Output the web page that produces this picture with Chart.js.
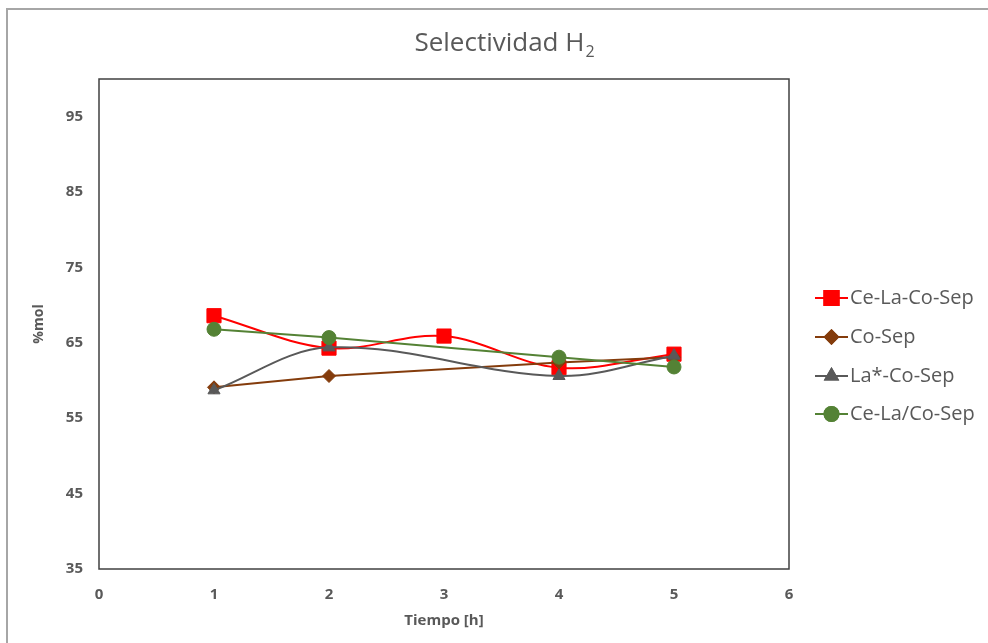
<!DOCTYPE html>
<html lang="es">
<head>
<meta charset="utf-8">
<title>Selectividad H2</title>
<script src="https://cdn.jsdelivr.net/npm/chart.js@4.4.0/dist/chart.umd.min.js"></script>
<style>
  html, body { margin: 0; padding: 0; background: #ffffff; }
  canvas { display: block; }
</style>
</head>
<body>
<canvas id="chart" width="988" height="643"></canvas>
<script>
// Data
const seriesNames = ["Ce-La-Co-Sep", "Co-Sep", "La*-Co-Sep", "Ce-La/Co-Sep"];
const timesCeLaCo = [1, 2, 3, 4, 5];
const valuesCeLaCo = [68.6, 64.3, 65.9, 61.7, 63.5];
const timesCo = [1, 2, 4, 5];
const valuesCo = [59.1, 60.6, 62.4, 63.1];
const timesLa = [1, 2, 4, 5];
const valuesLa = [58.7, 64.4, 60.6, 63.3];
const timesCeLa = [1, 2, 4, 5];
const valuesCeLa = [66.8, 65.7, 63.1, 61.8];
const xTicks = [0, 1, 2, 3, 4, 5, 6];
const yTicks = [35, 45, 55, 65, 75, 85, 95];

const textColor = "#595959";
Chart.defaults.font.family = "'Open Sans', sans-serif";
Chart.defaults.color = textColor;

const toPoints = (xs, ys) => xs.map((x, i) => ({ x: x, y: ys[i] }));

function makeSeries(name, xs, ys, color, style, radius, tension, order) {
    return {
        label: name,
        data: toPoints(xs, ys),
        borderColor: color,
        backgroundColor: color,
        borderWidth: 2,
        pointStyle: style,
        pointRadius: radius,
        pointHoverRadius: radius,
        pointBorderWidth: 1,
        pointBackgroundColor: color,
        pointBorderColor: color,
        tension: tension,
        order: order,
    };
}

const datasets = [
    makeSeries(seriesNames[0], timesCeLaCo, valuesCeLaCo, "#ff0000", "rect", 10, 0.35, 4),
    makeSeries(seriesNames[1], timesCo, valuesCo, "#843c0c", "rectRot", 6.5, 0, 3),
    makeSeries(seriesNames[2], timesLa, valuesLa, "#595959", "triangle", 7, 0.35, 2),
    makeSeries(seriesNames[3], timesCeLa, valuesCeLa, "#548235", "circle", 7, 0, 1),
];

// Frame, plot box, title and legend drawn like the spreadsheet chart
const excelLook = {
    id: "excelLook",
    beforeDraw(chart) {
        const ctx = chart.ctx;
        ctx.save();
        ctx.fillStyle = "#a6a6a6";
        ctx.fillRect(6, 8, 2, chart.height);
        ctx.fillRect(6, 8, chart.width, 2);
        ctx.restore();
    },
    afterDraw(chart) {
        const ctx = chart.ctx;
        const a = chart.chartArea;
        ctx.save();
        // plot box
        ctx.strokeStyle = "#404040";
        ctx.lineWidth = 1.5;
        ctx.strokeRect(a.left, a.top, a.right - a.left, a.bottom - a.top);

        // title with subscript
        ctx.fillStyle = textColor;
        ctx.textBaseline = "alphabetic";
        ctx.font = "26px 'Open Sans', sans-serif";
        const main = "Selectividad H";
        const mainW = ctx.measureText(main).width;
        ctx.font = "16px 'Open Sans', sans-serif";
        const subW = ctx.measureText("2").width;
        const tx = 504 - (mainW + subW) / 2;
        ctx.font = "26px 'Open Sans', sans-serif";
        ctx.fillText(main, tx, 51);
        ctx.font = "16px 'Open Sans', sans-serif";
        ctx.fillText("2", tx + mainW + 1, 57);

        // legend
        const rowY = [298, 337, 376, 414];
        chart.data.datasets.forEach((ds, i) => {
            const y = rowY[i];
            ctx.strokeStyle = ds.borderColor;
            ctx.lineWidth = 2;
            ctx.beginPath();
            ctx.moveTo(815, y);
            ctx.lineTo(848, y);
            ctx.stroke();
            ctx.fillStyle = ds.pointBackgroundColor;
            Chart.helpers.drawPoint(ctx, {
                pointStyle: ds.pointStyle,
                radius: ds.pointRadius,
                borderWidth: 1,
                rotation: 0,
            }, 831.5, y);
            ctx.fill();
            ctx.stroke();
            ctx.fillStyle = textColor;
            ctx.font = "20px 'Open Sans', sans-serif";
            ctx.textBaseline = "middle";
            ctx.fillText(ds.label, 850, y);
        });
        ctx.restore();
    },
};

new Chart(document.getElementById("chart"), {
    type: "line",
    data: { datasets: datasets },
    plugins: [excelLook],
    options: {
        responsive: false,
        animation: false,
        events: [],
        layout: { padding: { top: 79, right: 199, left: 0, bottom: 0 } },
        plugins: {
            legend: { display: false },
            title: { display: false },
            tooltip: { enabled: false },
        },
        scales: {
            x: {
                type: "linear",
                min: 0,
                max: 6,
                afterBuildTicks: (scale) => { scale.ticks = xTicks.map(v => ({ value: v })); },
                afterFit: (scale) => { scale.height = 74; },
                grid: { display: false, drawTicks: false },
                border: { display: false },
                ticks: {
                    padding: 17,
                    color: textColor,
                    font: { size: 15, weight: "bold" },
                },
                title: {
                    display: true,
                    text: "Tiempo [h]",
                    color: textColor,
                    font: { size: 15, weight: "bold" },
                    padding: { top: 0, bottom: 13 },
                },
            },
            y: {
                min: 35,
                max: 100,
                afterBuildTicks: (scale) => { scale.ticks = yTicks.map(v => ({ value: v })); },
                afterFit: (scale) => { scale.width = 99; },
                grid: { display: false, drawTicks: false },
                border: { display: false },
                ticks: {
                    padding: 16,
                    color: textColor,
                    font: { size: 15, weight: "bold" },
                },
                title: {
                    display: true,
                    text: "%mol",
                    color: textColor,
                    font: { size: 14, weight: "bold" },
                    padding: { top: 31, bottom: 0 },
                },
            },
        },
    },
});
</script>
</body>
</html>
